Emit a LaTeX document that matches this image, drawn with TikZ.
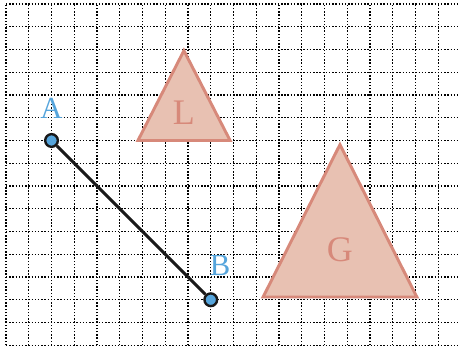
\documentclass[tikz,border=0pt]{standalone}
\usepackage{fontspec}
\setmainfont{Liberation Serif}
\usetikzlibrary{calc}

\definecolor{ptblue}{HTML}{56A5DC}
\definecolor{trifill}{HTML}{E8C1B2}
\definecolor{triline}{HTML}{D7897A}

\begin{document}
\begin{tikzpicture}[x=0.6cm, y=0.6cm,
    griddot/.style = {black, line width=1.1pt, dash pattern=on 1.1pt off 1.3pt},
    pt/.style = {circle, draw=black!90, line width=1.8pt, fill=ptblue, inner sep=0pt, minimum size=9.5pt},
    ptlabel/.style = {text=ptblue, inner sep=0pt, font=\fontsize{23}{23}\selectfont},
    tri/.style = {draw=triline, fill=trifill, line width=2.2pt, line join=miter},
    trilabel/.style = {text=triline, inner sep=0pt, font=\fontsize{27}{27}\selectfont}]
    \useasboundingbox (-0.264,-0.121) rectangle (19.912,15.176);

    % Dotted grid
    \foreach \i in {0,...,19} \draw[griddot] (\i,0) -- (\i,15);
    \foreach \j in {0,...,15} \draw[griddot] (0,\j) -- (19.912,\j);

    % Triangle L
    \draw[tri] (5.8,9) coordinate (L1) -- (9.85,9) coordinate (L2) -- (7.82,12.95) coordinate (L3) -- cycle;
    \node[trilabel] (labL) at (7.82,10.2) {L};

    % Triangle G
    \draw[tri] (11.3,2.12) coordinate (G1) -- (18.06,2.12) coordinate (G2) -- (14.68,8.82) coordinate (G3) -- cycle;
    \node[trilabel] (labG) at (14.68,4.2) {G};

    % Segment AB
    \node[pt] (A) at (2,9) {};
    \node[pt] (B) at (9,2) {};
    \draw[black!90, line width=2.2pt] (A) -- (B);
    \node[ptlabel] (labA) at (2,10.42) {A};
    \node[ptlabel] (labB) at (9.41,3.52) {B};

\end{tikzpicture}
\end{document}
